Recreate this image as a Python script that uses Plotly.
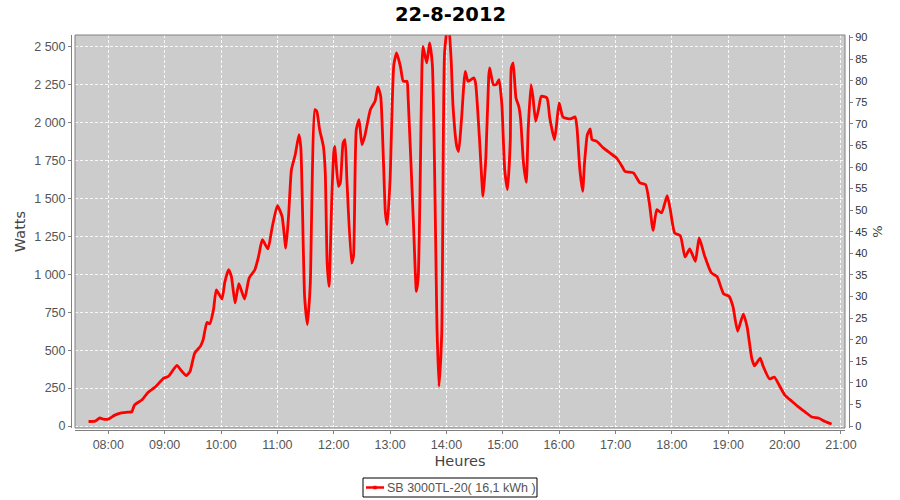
import plotly.graph_objects as go

# ---- data ----
times = [
    "07:39", "07:46", "07:51", "07:55", "08:00", "08:07", "08:14", "08:21", "08:25", "08:28",
    "08:36", "08:42", "08:50", "08:59", "09:04", "09:13", "09:17", "09:23", "09:27", "09:32",
    "09:38", "09:41", "09:45", "09:48", "09:52", "09:55", "10:01", "10:04", "10:08", "10:11",
    "10:15", "10:19", "10:25", "10:30", "10:36", "10:40", "10:44", "10:50", "10:54", "11:00",
    "11:05", "11:09", "11:12", "11:15", "11:19", "11:23", "11:25", "11:29", "11:32", "11:35",
    "11:40", "11:42", "11:45", "11:49", "11:51", "11:53", "11:55", "11:58", "12:00", "12:01",
    "12:05", "12:07", "12:10", "12:12", "12:14", "12:19", "12:21", "12:24", "12:27", "12:30",
    "12:33", "12:39", "12:44", "12:47", "12:50", "12:55", "12:57", "13:00", "13:04", "13:07",
    "13:11", "13:14", "13:18", "13:19", "13:25", "13:28", "13:30", "13:34", "13:35", "13:39",
    "13:42", "13:45", "13:50", "13:52", "13:55", "13:58", "14:02", "14:05", "14:07", "14:11",
    "14:13", "14:16", "14:20", "14:23", "14:29", "14:31", "14:35", "14:39", "14:42", "14:45",
    "14:46", "14:50", "14:53", "14:56", "14:59", "15:02", "15:05", "15:08", "15:09", "15:11",
    "15:14", "15:17", "15:19", "15:22", "15:25", "15:27", "15:30", "15:32", "15:35", "15:38",
    "15:41", "15:47", "15:50", "15:55", "15:57", "16:00", "16:04", "16:12", "16:17", "16:19",
    "16:22", "16:25", "16:27", "16:30", "16:33", "16:35", "16:40", "16:47", "16:54", "17:01",
    "17:07", "17:10", "17:19", "17:26", "17:32", "17:36", "17:40", "17:44", "17:49", "17:55",
    "17:58", "18:03", "18:09", "18:14", "18:19", "18:25", "18:29", "18:35", "18:42", "18:48",
    "18:55", "19:01", "19:05", "19:10", "19:16", "19:20", "19:25", "19:28", "19:34", "19:37",
    "19:44", "19:49", "19:54", "20:00", "20:08", "20:15", "20:22", "20:29", "20:36", "20:43",
    "20:50",
]
watts = [
    30, 32, 53, 45, 46, 72, 86, 92, 94, 140,
    173, 220, 257, 316, 327, 400, 371, 332, 360, 481,
    525, 569, 683, 674, 767, 898, 837, 947, 1030, 986,
    811, 938, 837, 976, 1030, 1118, 1228, 1167, 1294, 1452,
    1382, 1173, 1393, 1690, 1788, 1920, 1833, 854, 668, 931,
    2085, 2074, 1953, 1843, 1668, 1074, 920, 1514, 1800, 1843,
    1579, 1602, 1866, 1887, 1624, 1074, 1118, 1953, 2019, 1854,
    1909, 2085, 2140, 2235, 2173, 1404, 1327, 1624, 2382, 2459,
    2370, 2272, 2272, 2195, 1316, 887, 986, 2382, 2502, 2393,
    2525, 2382, 635, 261, 613, 2459, 2680, 2415, 2107, 1843,
    1810, 2019, 2337, 2272, 2294, 2261, 1909, 1514, 1777, 2305,
    2360, 2250, 2250, 2283, 2118, 1690, 1558, 1887, 2360, 2393,
    2162, 2107, 2019, 1734, 1606, 1953, 2250, 2173, 2008, 2085,
    2173, 2162, 2030, 1887, 1975, 2129, 2037, 2024, 2037, 1964,
    1690, 1547, 1734, 1920, 1958, 1887, 1876, 1833, 1800, 1767,
    1711, 1678, 1668, 1602, 1591, 1470, 1289, 1426, 1404, 1518,
    1437, 1272, 1254, 1114, 1167, 1085, 1239, 1118, 1009, 986,
    872, 854, 788, 624, 738, 657, 448, 397, 448, 397,
    310, 323, 272, 206, 162, 125, 92, 59, 53, 30,
    13,
]
date = "2012-08-22"
series_name = "SB 3000TL-20( 16,1 kWh )"
title_text = "22-8-2012"

w_ticks = [0, 250, 500, 750, 1000, 1250, 1500, 1750, 2000, 2250, 2500]
w_tick_labels = ["0", "250", "500", "750", "1 000", "1 250", "1 500", "1 750", "2 000", "2 250", "2 500"]
pct_ticks = list(range(0, 95, 5))
hour_ticks = ["%02d:00" % h for h in range(8, 22)]

x_vals = [f"{date} {t}" for t in times]
LINE_RED = "#ff0000"

fig = go.Figure()
fig.add_trace(go.Scatter(
    x=x_vals, y=watts, mode="lines", name=series_name,
    line=dict(color=LINE_RED, width=2.8, shape="spline", smoothing=0.5),
    yaxis="y", showlegend=False,
))
# invisible trace to anchor the right (%) axis
fig.add_trace(go.Scatter(x=[x_vals[0]], y=[None], mode="lines", yaxis="y2",
                         showlegend=False, hoverinfo="skip"))

W, H = 900, 500
ml, mr, mt, mb = 60, 40, 30, 60
pw, ph = W - ml - mr, H - mt - mb
def px_x(x):
    return (x - ml) / pw
def px_y(y):
    return (H - mb - y) / ph

plot_l, plot_r, plot_t, plot_b = 75, 845, 35, 428
grid = dict(showgrid=True, gridcolor="rgba(255,255,255,0.85)", gridwidth=1, griddash="3px,2px")
tickfont = dict(family="Liberation Sans", size=12.5, color="#555555")
titlefont = dict(family="DejaVu Sans", size=14.5, color="#444444")

# legend box (JFreeChart style) drawn as shapes + text
leg_l, leg_r, leg_t, leg_b = 363, 537, 478, 497
leg_cy = (leg_t + leg_b) / 2
shapes = [
    dict(type="rect", xref="paper", yref="paper",
         x0=px_x(plot_l), x1=px_x(plot_r), y0=px_y(plot_b), y1=px_y(plot_t),
         line=dict(color="#808080", width=1), fillcolor="rgba(0,0,0,0)", layer="above"),
    dict(type="rect", xref="paper", yref="paper",
         x0=px_x(leg_l), x1=px_x(leg_r), y0=px_y(leg_b), y1=px_y(leg_t),
         line=dict(color="black", width=1), fillcolor="white"),
    dict(type="line", xref="paper", yref="paper",
         x0=px_x(366), x1=px_x(384), y0=px_y(leg_cy), y1=px_y(leg_cy),
         line=dict(color=LINE_RED, width=2.5)),
    dict(type="rect", xref="paper", yref="paper",
         x0=px_x(373.5), x1=px_x(376.5), y0=px_y(leg_cy + 1.5), y1=px_y(leg_cy - 1.5),
         line=dict(color=LINE_RED, width=0.5), fillcolor=LINE_RED),
]

fig.update_layout(
    width=W, height=H,
    margin=dict(l=ml, r=mr, t=mt, b=mb, autoexpand=False),
    paper_bgcolor="white",
    plot_bgcolor="#cccccc",
    showlegend=False,
    title=dict(text=f"<b>{title_text}</b>", x=450.5 / W, xanchor="center", y=1 - 14 / H, yanchor="middle",
               font=dict(family="DejaVu Sans", size=19.5, color="black")),
    xaxis=dict(
        type="date", automargin=False,
        domain=[px_x(plot_l), px_x(plot_r)],
        range=[f"{date} 07:24:33", f"{date} 21:04:18"],
        tickvals=[f"{date} {t}" for t in hour_ticks], ticktext=hour_ticks,
        anchor="free", position=px_y(430),
        showline=True, linecolor="#808080", linewidth=1,
        ticks="outside", ticklen=3, tickcolor="#808080",
        tickfont=tickfont,
        title=dict(text="Heures", font=titlefont, standoff=4),
        zeroline=False, **grid,
    ),
    yaxis=dict(
        automargin=False,
        domain=[px_y(plot_b), px_y(plot_t)],
        range=[-13, 2577],
        tickvals=w_ticks, ticktext=w_tick_labels,
        anchor="free", position=px_x(71),
        showline=True, linecolor="#808080", linewidth=1,
        ticks="outside", ticklen=3, tickcolor="#808080",
        tickfont=tickfont,
        title=dict(text="Watts", font=titlefont, standoff=4),
        zeroline=False, **grid,
    ),
    yaxis2=dict(
        automargin=False,
        overlaying="y", side="right",
        range=[-0.46, 90.6],
        tickvals=pct_ticks,
        anchor="free", position=px_x(849),
        showline=True, linecolor="#808080", linewidth=1,
        ticks="outside", ticklen=3, tickcolor="#808080",
        tickfont=dict(family="Liberation Sans", size=11, color="#333333"),
        title=dict(text="%", font=dict(family="DejaVu Sans", size=13, color="#444444"), standoff=6),
        showgrid=False, zeroline=False,
    ),
    shapes=shapes,
    annotations=[dict(text=series_name, xref="paper", yref="paper",
                      x=px_x(385), y=px_y(leg_cy), xanchor="left", yanchor="middle",
                      showarrow=False,
                      font=dict(family="Liberation Sans", size=12.5, color="#555555"))],
)

fig.write_html("out.html", config={"displayModeBar": False},
               post_script="document.body.style.margin='0';document.body.style.overflow='hidden';")
